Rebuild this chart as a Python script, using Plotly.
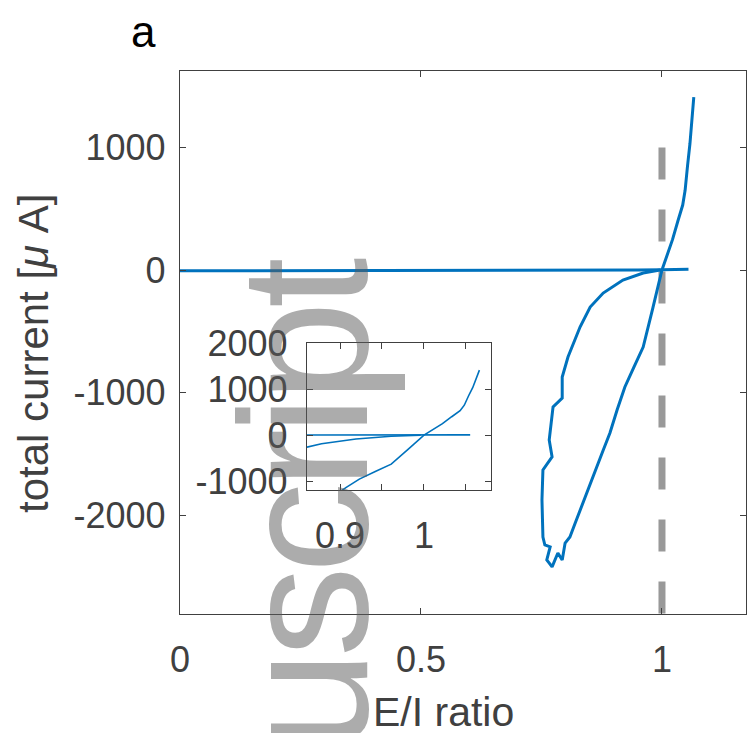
import plotly.graph_objects as go

W, H = 747, 733

# ---- data ----
flat_x = [0.0, 0.1, 0.2, 0.3, 0.4, 0.5, 0.6, 0.7, 0.8, 0.9, 0.95, 1.0, 1.03, 1.055]
flat_y = [-6, -6, -5, -5, -4, -4, -3, -3, -2, -1, 0, 2, 4, 6]

loop_x = [1.066, 1.062, 1.058, 1.053, 1.048, 1.043, 1.038, 1.033, 1.022, 1.012, 1.000,
          0.981, 0.961, 0.942, 0.923, 0.907, 0.892, 0.878, 0.865, 0.854, 0.844, 0.832,
          0.820, 0.809, 0.799, 0.793, 0.784, 0.772, 0.761, 0.768, 0.757, 0.753, 0.751,
          0.753, 0.772, 0.766, 0.774, 0.793, 0.793, 0.805, 0.818, 0.830, 0.851, 0.878,
          0.919, 0.961, 0.996]
loop_y = [1411, 1200, 1030, 850, 650, 530, 470, 400, 250, 130, 0,
          -310, -628, -790, -954, -1140, -1330, -1470, -1607, -1710, -1819, -1940,
          -2064, -2178, -2227, -2365, -2308, -2422, -2365, -2259, -2243, -2178, -1876,
          -1631, -1525, -1387, -1117, -1044, -873, -710, -590, -465, -302, -188,
          -82, -24, 0]

ref_x = [1.0, 1.0]
ref_y = [1000, -2806]

main_xticks = [0, 0.5, 1]
main_xlabels = ["0", "0.5", "1"]
main_yticks = [-2000, -1000, 0, 1000]
main_ylabels = ["-2000", "-1000", "0", "1000"]

inset_xticks = [0.9, 0.95, 1.0, 1.05]
inset_xlabels = ["0.9", "", "1", ""]
inset_yticks = [-1000, 0, 1000, 2000]
inset_ylabels = ["-1000", "0", "1000", "2000"]

BLUE = "#0072BD"
GRAY = "#999999"
AX = "#404040"
FONT = "Liberation Sans, Arial, Helvetica, sans-serif"


def px(x):
    return x / W


def py(y):
    return 1 - y / H


fig = go.Figure()

# main axes traces
fig.add_trace(go.Scatter(x=ref_x, y=ref_y, mode="lines",
                         line=dict(color=GRAY, width=7, dash="32px,30px"),
                         xaxis="x", yaxis="y", showlegend=False))
fig.add_trace(go.Scatter(x=flat_x, y=flat_y, mode="lines",
                         line=dict(color=BLUE, width=3),
                         xaxis="x", yaxis="y", showlegend=False))
fig.add_trace(go.Scatter(x=loop_x, y=loop_y, mode="lines",
                         line=dict(color=BLUE, width=3),
                         xaxis="x", yaxis="y", showlegend=False))
# inset traces
fig.add_trace(go.Scatter(x=flat_x, y=flat_y, mode="lines",
                         line=dict(color=BLUE, width=1.6),
                         xaxis="x2", yaxis="y2", showlegend=False))
fig.add_trace(go.Scatter(x=loop_x, y=loop_y, mode="lines",
                         line=dict(color=BLUE, width=1.6),
                         xaxis="x2", yaxis="y2", showlegend=False))

axis_common = dict(showgrid=False, zeroline=False, showline=True, linecolor=AX,
                   linewidth=1.3, ticks="inside", ticklen=6, tickcolor=AX,
                   tickwidth=1.3, mirror="ticks", automargin=False,
                   tickfont=dict(family=FONT, size=36, color=AX))

fig.update_layout(
    width=W, height=H,
    margin=dict(l=0, r=0, t=0, b=0, autoexpand=False),
    paper_bgcolor="white", plot_bgcolor="white",
    xaxis=dict(domain=[px(180), px(745.7)], range=[0, 1.1737],
               tickvals=main_xticks, ticktext=main_xlabels,
               ticklabelstandoff=14, anchor="y", **axis_common),
    yaxis=dict(domain=[py(614), py(70.7)], range=[-2806, 1626],
               tickvals=main_yticks, ticktext=main_ylabels,
               ticklabelstandoff=6, anchor="x", **axis_common),
    xaxis2=dict(domain=[px(307), px(491)], range=[0.8607, 1.0798],
                tickvals=inset_xticks, ticktext=inset_xlabels,
                ticklabelstandoff=14, anchor="y2", **axis_common),
    yaxis2=dict(domain=[py(490), py(343)], range=[-1190, 2000],
                tickvals=inset_yticks, ticktext=inset_ylabels,
                ticklabelstandoff=11, anchor="x2", **axis_common),
)

annotations = [
    dict(text="a", x=px(143), y=py(32), xref="paper", yref="paper",
         showarrow=False, font=dict(family=FONT, size=44, color="black"),
         xanchor="center", yanchor="middle"),
    dict(text="E/I ratio", x=px(444), y=py(712), xref="paper", yref="paper",
         showarrow=False, font=dict(family=FONT, size=41, color=AX),
         xanchor="center", yanchor="middle"),
    dict(text="total current [<i>μ</i> A]", x=px(33), y=py(354), xref="paper",
         yref="paper", showarrow=False, textangle=-90,
         font=dict(family=FONT, size=42, color=AX),
         xanchor="center", yanchor="middle"),
    dict(text='<span style="letter-spacing:-7px">uscript</span>',
         x=px(303), y=py(257), xref="paper", yref="paper",
         showarrow=False, textangle=-90,
         font=dict(family=FONT, size=182, color="rgba(90,90,90,0.5)"),
         xanchor="center", yanchor="top"),
]
fig.update_layout(annotations=annotations)

fig.write_html("out.html", config={"displayModeBar": False},
               post_script="document.body.style.margin='0';document.body.style.overflow='hidden';")
